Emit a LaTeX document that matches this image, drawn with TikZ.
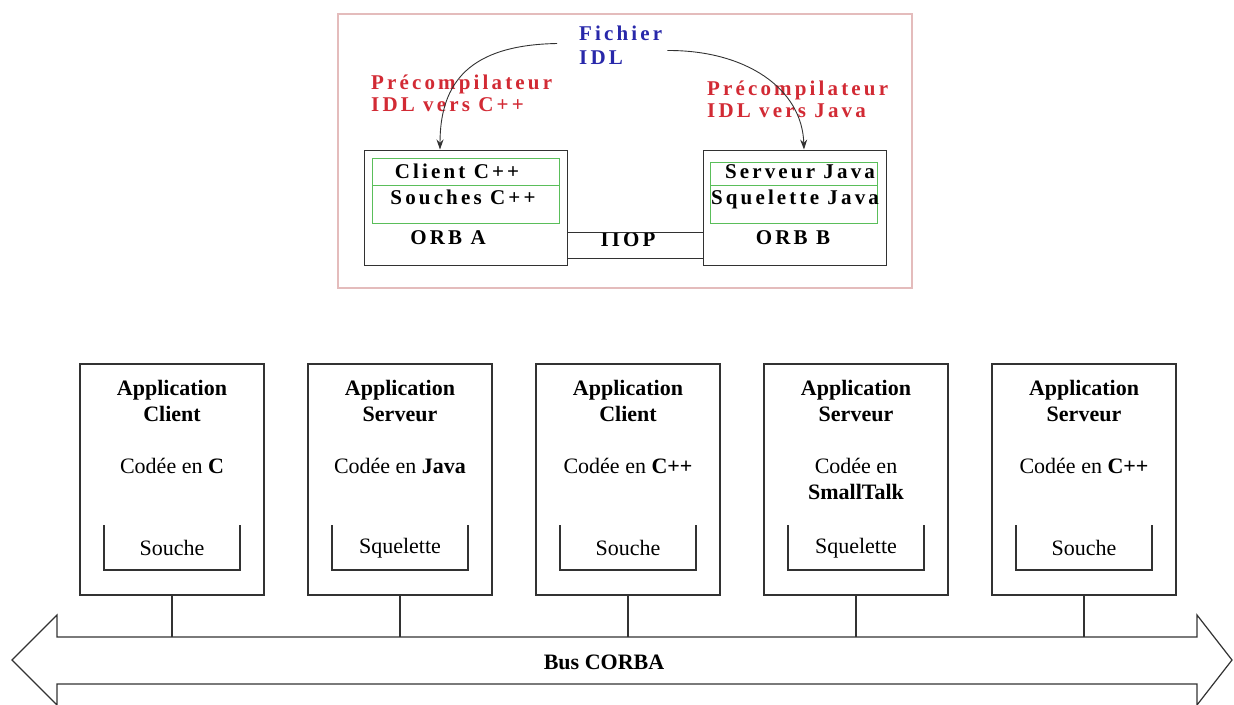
\documentclass[tikz,border=0pt]{standalone}
\usepackage{fontspec}
\setmainfont{Liberation Serif}
\newfontfamily\spacedfont[LetterSpace=15]{Liberation Serif Bold}
\usepackage{tikz}
\usetikzlibrary{positioning,calc,arrows.meta}

\definecolor{idlblue}{RGB}{40,40,170}
\definecolor{precred}{RGB}{210,42,52}
\definecolor{framepink}{RGB}{228,188,188}
\definecolor{greenline}{RGB}{90,190,90}
\definecolor{lineg}{RGB}{50,50,50}

\tikzset{
  appbox/.style={draw=lineg, line width=1.3pt, minimum width=184pt, minimum height=231pt, inner sep=0pt},
  apptext/.style={font=\fontsize{22}{26}\selectfont, align=center, inner sep=0pt},
  orbbox/.style={draw=lineg, line width=1pt, minimum height=115pt, inner sep=0pt},
  greenbox/.style={draw=greenline, line width=0.7pt},
  toptext/.style={font=\spacedfont\fontsize{21}{22}\selectfont, inner sep=0pt},
  idlarrow/.style={lineg, line width=0.9pt, -{Stealth[length=10pt,width=7pt]}},
  stubline/.style={lineg, line width=1.2pt},
  busline/.style={lineg, line width=1.2pt}
}

\begin{document}
\begin{tikzpicture}[x=1pt, y=-1pt]
    \useasboundingbox (0,0) rectangle (1234,704);
    % compilation IDL
    \draw[framepink, line width=2pt] (338,14) rectangle (912,288);
    \node[orbbox, minimum width=203pt] (orbA) at (465.5,207.5) {};
    \node[orbbox, minimum width=183pt] (orbB) at (794.5,207.5) {};
    \draw[greenbox] (372,158) rectangle (559,185) (372,185) rectangle (559,223);
    \draw[greenbox] (710,162) rectangle (877,185) (710,185) rectangle (877,223);
    \node[toptext, anchor=base] (client) at (457,178.5) {Client C++};
    \node[toptext, anchor=base] (souches) at (463,204.5) {Souches C++};
    \node[toptext, anchor=base] (orbAlbl) at (448,244.5) {ORB A};
    \node[toptext, anchor=base] (serveur) at (800,178.5) {Serveur Java};
    \node[toptext, anchor=base] (squel) at (795,204.5) {Squelette Java};
    \node[toptext, anchor=base] (orbBlbl) at (793,244.5) {ORB B};
    \node[toptext, anchor=base] (iiop) at (628,246.5) {IIOP};
    \draw[lineg, line width=0.8pt] ([yshift=-24.5pt]orbA.east) -- ([yshift=-24.5pt]orbB.west);
    \draw[lineg, line width=0.8pt] ([yshift=-50.5pt]orbA.east) -- ([yshift=-50.5pt]orbB.west);
    \node[toptext, idlblue, align=left, anchor=north west, font=\spacedfont\fontsize{21}{24}\selectfont] (fichier) at (579,26) {Fichier\\IDL};
    \node[toptext, precred, align=left, anchor=north west] (precA) at (371,75) {Précompilateur\\IDL vers C++};
    \node[toptext, precred, align=left, anchor=north west] (precB) at (707,81) {Précompilateur\\IDL vers Java};
    \draw[idlarrow] ([xshift=-22pt,yshift=2pt]fichier.west) .. controls (470,45) and (440,82) .. ([xshift=-25.5pt]orbA.north);
    \draw[idlarrow] ([xshift=5pt,yshift=-5pt]fichier.east) .. controls (745,50) and (802,88) .. ([xshift=9.5pt]orbB.north);

    % applications sur le bus
    \coordinate (bustop) at (600,637);
    \draw[busline] (57,637) -- (1197,637) -- (1197,615) -- (1232,660) -- (1197,705) -- (1197,684)
        -- (57,684) -- (57,705) -- (12,660) -- (57,615) -- cycle;
    \node[apptext, font=\bfseries\fontsize{22}{26}\selectfont] (bus) at (604,662) {Bus CORBA};
    \foreach \n/\cx/\role/\lang/\stub in {
        1/172/Client/{Codée en \textbf{C}}/Souche,
        2/400/Serveur/{Codée en \textbf{Java}}/Squelette,
        3/628/Client/{Codée en \textbf{C++}}/Souche,
        4/856/Serveur/{Codée en\\\textbf{SmallTalk}}/Squelette,
        5/1084/Serveur/{Codée en \textbf{C++}}/Souche}{
        \node[appbox] (app\n) at (\cx,479.5) {};
        \node[apptext, font=\bfseries\fontsize{22}{26}\selectfont, anchor=north] (title\n) at (\cx,380) {Application\\\role};
        \node[apptext, anchor=north] (lang\n) at (\cx,458) {\lang};
        \draw[stubline] (\cx-68,525) -- (\cx-68,570) -- (\cx+68,570) -- (\cx+68,525);
        \node[apptext] (stub\n) at (\cx,548) {\stub};
        \draw[busline] (app\n.south) -- (app\n.south |- bustop);
    }
\end{tikzpicture}
\end{document}
